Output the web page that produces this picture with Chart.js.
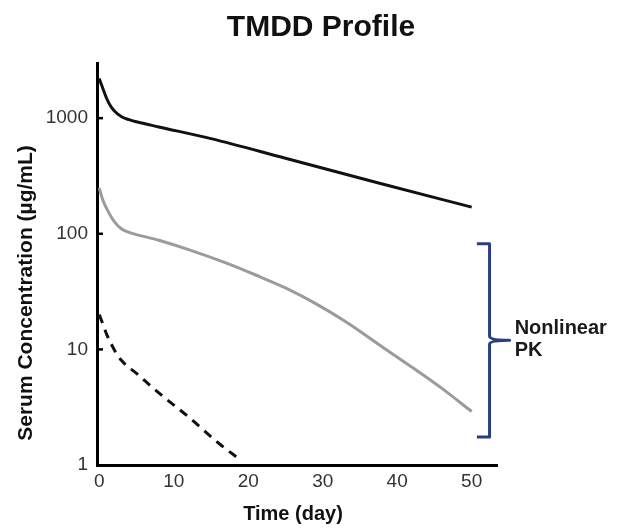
<!DOCTYPE html>
<html>
<head>
<meta charset="utf-8">
<script src="https://cdn.jsdelivr.net/npm/chart.js@4.4.1/dist/chart.umd.min.js"></script>
<style>
  html, body { margin: 0; background: #fff; }
  #wrap { width: 618px; height: 529px; }
</style>
</head>
<body>
<div id="wrap"><canvas id="tmdd"></canvas></div>
<script>
// concentration-time profiles (day, µg/mL)
const highDoseDays = [0, 0.5, 1, 1.5, 2, 3, 4, 5, 8, 15, 25, 37.5, 50];
const highDoseConc = [2200, 1800, 1480, 1280, 1160, 1030, 970, 930, 840, 665, 450, 275, 170];

const midDoseDays = [0, 0.5, 1, 2, 3, 4, 8, 12, 17, 21, 25, 29, 33, 38, 42, 46, 50];
const midDoseConc = [248, 195, 165, 128, 110, 103, 88, 73, 56, 44, 34, 25, 17.5, 10.5, 7.0, 4.6, 2.9];

const lowDoseDays = [0, 0.5, 1, 2, 3, 5, 8, 12, 16, 19];
const lowDoseConc = [20, 16.5, 13.5, 10, 8, 6.2, 4.2, 2.6, 1.55, 1.1];

const xTicks = [0, 10, 20, 30, 40, 50];
const yTicks = [1, 10, 100, 1000];

const FONT = '"Liberation Sans", Arial, Helvetica, sans-serif';

function points(days, conc) {
    return days.map((d, i) => ({ x: d, y: conc[i] }));
}

function line(data, color, dash) {
    return {
        data,
        borderColor: color,
        borderWidth: 3,
        borderDash: dash || [],
        pointRadius: 0,
        fill: false,
        cubicInterpolationMode: 'monotone',
        borderCapStyle: 'butt',
    };
}

// title, axis titles, inward y ticks and the "Nonlinear PK" bracket
const annotations = {
    id: 'annotations',
    afterDraw(chart) {
        const { ctx, scales: { x, y } } = chart;
        ctx.save();

        ctx.strokeStyle = '#000';
        ctx.lineWidth = 2.5;
        [10, 100, 1000].forEach((v) => {
            const py = y.getPixelForValue(v);
            ctx.beginPath();
            ctx.moveTo(x.left, py);
            ctx.lineTo(x.left + 6, py);
            ctx.stroke();
        });

        ctx.fillStyle = '#111';
        ctx.textAlign = 'center';
        ctx.textBaseline = 'middle';
        ctx.font = `bold 30px ${FONT}`;
        ctx.fillText('TMDD Profile', 321, 28);

        ctx.font = `bold 20px ${FONT}`;
        ctx.fillText('Time (day)', 293, 514);

        ctx.save();
        ctx.translate(26, 293);
        ctx.rotate(-Math.PI / 2);
        ctx.font = `bold 21px ${FONT}`;
        ctx.fillText('Serum Concentration (µg/mL)', 0, 0);
        ctx.restore();

        // bracket over the mid-dose curve
        const top = y.getPixelForValue(82);
        const bottom = y.getPixelForValue(1.75);
        const mid = (top + bottom) / 2;
        const inner = x.getPixelForValue(50.7);
        const spine = x.getPixelForValue(52.4);
        const tip = x.getPixelForValue(55.1);
        ctx.strokeStyle = '#2a3f82';
        ctx.lineWidth = 3;
        ctx.lineJoin = 'round';
        ctx.beginPath();
        ctx.moveTo(inner, top);
        ctx.lineTo(spine, top);
        ctx.lineTo(spine, mid - 4);
        ctx.quadraticCurveTo(spine, mid, tip, mid);
        ctx.quadraticCurveTo(spine, mid, spine, mid + 4);
        ctx.lineTo(spine, bottom);
        ctx.lineTo(inner, bottom);
        ctx.stroke();

        ctx.fillStyle = '#1a1a1a';
        ctx.textAlign = 'left';
        ctx.font = `bold 20px ${FONT}`;
        ctx.fillText('Nonlinear', tip + 5, mid - 12);
        ctx.fillText('PK', tip + 5, mid + 10);

        ctx.restore();
    },
};

new Chart(document.getElementById('tmdd'), {
    type: 'line',
    data: {
        datasets: [
            line(points(highDoseDays, highDoseConc), '#111'),
            line(points(midDoseDays, midDoseConc), '#9b9b9b'),
            line(points(lowDoseDays, lowDoseConc), '#111', [9, 7]),
        ],
    },
    options: {
        responsive: true,
        maintainAspectRatio: false,
        animation: false,
        layout: { padding: { left: 0, right: 121, top: 63, bottom: 0 } },
        plugins: {
            legend: { display: false },
            tooltip: { enabled: false },
            title: { display: false },
        },
        scales: {
            x: {
                type: 'linear',
                min: -0.3,
                max: 53.4,
                afterBuildTicks: (scale) => { scale.ticks = xTicks.map((v) => ({ value: v })); },
                afterFit: (scale) => { scale.height = 64; },
                grid: { display: false, drawTicks: false },
                border: { color: '#000', width: 3 },
                ticks: { color: '#333', padding: 5, font: { family: FONT, size: 19 } },
            },
            y: {
                type: 'logarithmic',
                min: 1,
                max: 3000,
                afterBuildTicks: (scale) => { scale.ticks = yTicks.map((v) => ({ value: v })); },
                afterFit: (scale) => { scale.width = 97; },
                grid: { display: false, drawTicks: false },
                border: { color: '#000', width: 3 },
                ticks: {
                    color: '#333',
                    padding: 9,
                    font: { family: FONT, size: 19 },
                    callback: (v) => String(v),
                },
            },
        },
    },
    plugins: [annotations],
});
</script>
</body>
</html>
